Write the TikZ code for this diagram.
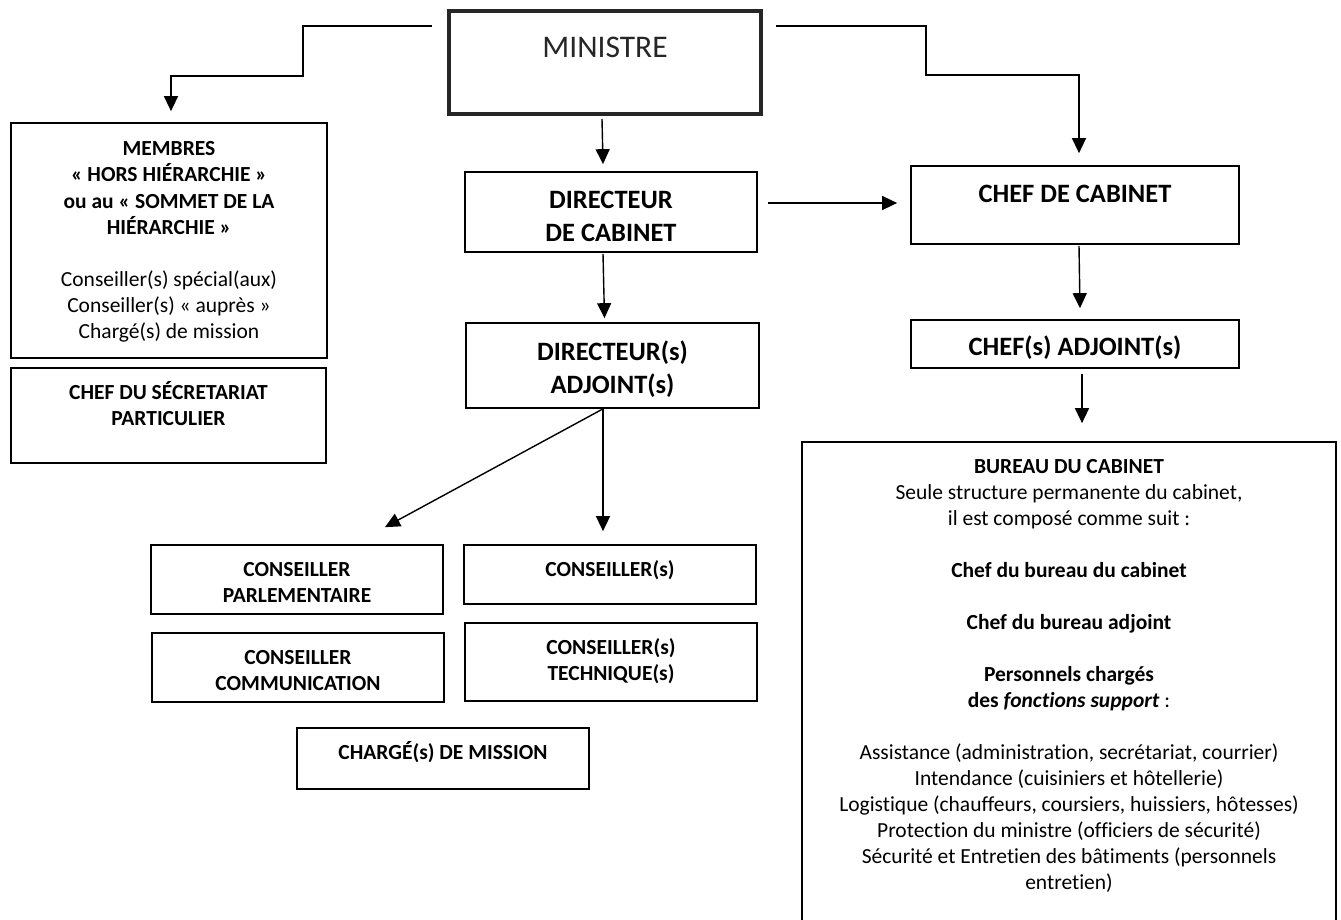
\documentclass[tikz,border=0pt]{standalone}
\usepackage{fontspec}
\setmainfont{Carlito}[Ligatures=NoCommon]
\usetikzlibrary{arrows.meta}
\begin{document}
\begin{tikzpicture}[x=1pt,y=-1pt,
  box/.style={draw,line width=1.7pt,inner sep=0pt,rectangle},
  thickbox/.style={draw,line width=4pt,inner sep=0pt,rectangle,draw=black!85},
  small/.style={font=\fontsize{21.5}{26}\selectfont,align=center,anchor=base,inner sep=0pt},
  smallb/.style={font=\fontsize{21.5}{26}\selectfont\bfseries,align=center,anchor=base,inner sep=0pt},
  bigb/.style={font=\fontsize{26.5}{33}\selectfont\bfseries,align=center,anchor=base,inner sep=0pt},
  arr/.style={line width=1.4pt,-{Triangle[length=15pt,width=14pt]}}]
\useasboundingbox (0,0) rectangle (1341,920);
% boxes
\node[thickbox,minimum width=312pt,minimum height=103pt] (ministre) at (605,62.5) {};
\node[box,minimum width=316pt,minimum height=235pt] (membres) at (169,240.5) {};
\node[box,minimum width=315pt,minimum height=95pt] (secr) at (168.5,415.5) {};
\node[box,minimum width=292pt,minimum height=80pt] (dircab) at (611,212) {};
\node[box,minimum width=293pt,minimum height=85pt] (diradj) at (612.5,365.5) {};
\node[box,minimum width=328pt,minimum height=78pt] (chefcab) at (1075,205) {};
\node[box,minimum width=328pt,minimum height=48pt] (chefadj) at (1075,344) {};
\node[box,minimum width=292pt,minimum height=69pt] (conspar) at (297,579.5) {};
\node[box,minimum width=292pt,minimum height=69pt] (conscom) at (298,667.5) {};
\node[box,minimum width=292pt,minimum height=59pt] (conss) at (610,574.5) {};
\node[box,minimum width=292pt,minimum height=78pt] (constech) at (611,662) {};
\node[box,minimum width=292pt,minimum height=61pt] (charge) at (443,758.5) {};
\node[box,minimum width=534pt,minimum height=498pt] (bureau) at (1069,691) {};
% texts (anchor base = baseline of last line)
\node[anchor=base,inner sep=0pt,font=\fontsize{31.5}{36}\selectfont,text=black!85] (tministre) at (605,58) {MINISTRE};
\node[smallb] (tmembres) at (169,234) {MEMBRES\\« HORS HIÉRARCHIE »\\ou au « SOMMET DE LA\\HIÉRARCHIE »};
\node[small] (tmembres2) at (169,338) {Conseiller(s) spécial(aux)\\Conseiller(s) « auprès »\\Chargé(s) de mission};
\node[smallb] (tsecr) at (168.5,425) {CHEF DU SÉCRETARIAT\\PARTICULIER};
\node[bigb] (tdircab) at (611,241) {DIRECTEUR\\DE CABINET};
\node[bigb] (tdiradj) at (612.5,393) {DIRECTEUR(s)\\ADJOINT(s)};
\node[bigb] (tchefcab) at (1075,203) {CHEF DE CABINET};
\node[bigb] (tchefadj) at (1075,355) {CHEF(s) ADJOINT(s)};
\node[smallb] (tconspar) at (297,602) {CONSEILLER\\PARLEMENTAIRE};
\node[smallb] (tconscom) at (298,690) {CONSEILLER\\COMMUNICATION};
\node[smallb] (tconss) at (610,576) {CONSEILLER(s)};
\node[smallb] (tconstech) at (611,680) {CONSEILLER(s)\\TECHNIQUE(s)};
\node[smallb] (tcharge) at (443,759) {CHARGÉ(s) DE MISSION};
\node[small] (tbureau) at (1069,889) {\textbf{BUREAU DU CABINET}\\Seule structure permanente du cabinet,\\il est composé comme suit :\\[26pt]
\textbf{Chef du bureau du cabinet}\\[26pt]
\textbf{Chef du bureau adjoint}\\[26pt]
\textbf{Personnels chargés}\\\textbf{des \textit{fonctions support}} :\\[26pt]
Assistance (administration, secrétariat, courrier)\\
Intendance (cuisiniers et hôtellerie)\\
Logistique (chauffeurs, coursiers, huissiers, hôtesses)\\
Protection du ministre (officiers de sécurité)\\
Sécurité et Entretien des bâtiments (personnels\\
entretien)};
% connectors
\draw[arr] ([shift={(-15,17)}]ministre.north west) -| (303,76) -| ([shift={(2,-11)}]membres.north);
\draw[arr] ([shift={(13,17)}]ministre.north east) -| (926,75) -| ([shift={(4,-12)}]chefcab.north);
\draw[arr] ([shift={(-3,3)}]ministre.south) -- ([shift={(-8,-7)}]dircab.north);
\draw[arr] ([shift={(10,-9)}]dircab.east) -- ([shift={(-13,-2)}]chefcab.west);
\draw[arr] ([shift={(-8,1)}]dircab.south) -- ([shift={(-8,-4)}]diradj.north);
\draw[arr] ([shift={(4,1)}]chefcab.south) -- ([shift={(5,-11)}]chefadj.north);
\draw[arr] ([shift={(7,5)}]chefadj.south) -- ([shift={(13,-18)}]bureau.north);
\draw[arr] ([shift={(-9.5,0)}]diradj.south) -- ([shift={(88,-17)}]conspar.north);
\draw[arr] ([shift={(-9.5,0)}]diradj.south) -- ([shift={(-7,-13)}]conss.north);
\end{tikzpicture}
\end{document}
